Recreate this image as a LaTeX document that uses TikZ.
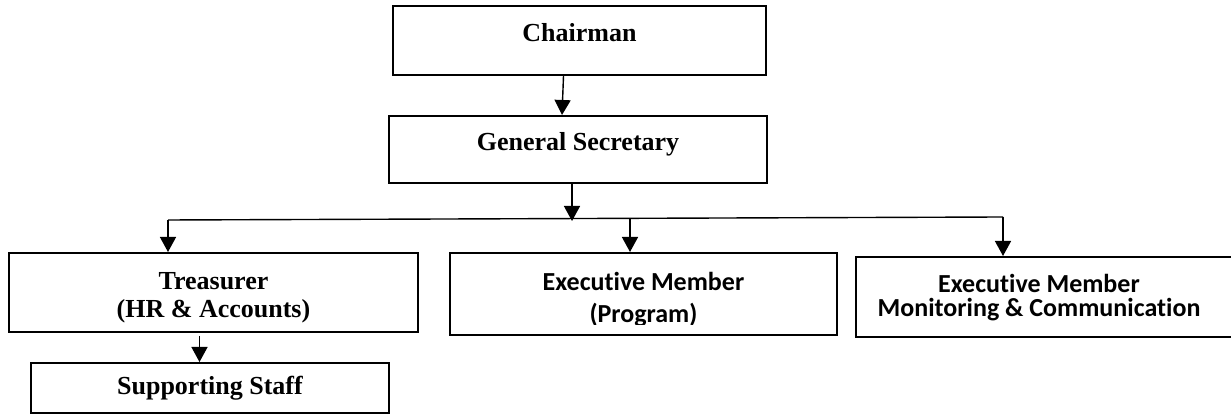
\documentclass[tikz,border=0pt]{standalone}
\usepackage{fontspec}
\setmainfont{Liberation Serif}
\newfontfamily\calibri[Ligatures=NoCommon]{Carlito}
\usetikzlibrary{arrows.meta}

\tikzset{
	orgbox/.style={shape=rectangle,draw=black,line width=1pt,inner sep=0pt},
	sertext/.style={font=\fontsize{13pt}{14pt}\selectfont\bfseries,align=center},
	caltext/.style={font=\calibri\fontsize{13pt}{16pt}\selectfont\bfseries,align=center},
	toptext/.style={text height=9pt,text depth=7.5pt},
	arr/.style={-{Triangle[length=7.5pt,width=8pt]},line width=0.7pt}
}

\begin{document}
\begin{tikzpicture}[x=0.5pt,y=-0.5pt]
	
	\useasboundingbox (0,0) rectangle (1231,415);
	
	\node[orgbox,sertext,toptext,minimum width=186.5pt,minimum height=34.5pt] (chair) at (579.5, 40.5) {Chairman};
	\node[orgbox,sertext,toptext,minimum width=189pt,minimum height=33.5pt] (gs) at (578, 149.5) {General Secretary};
	\node[orgbox,sertext,text height=28pt,text depth=3pt,minimum width=204.5pt,minimum height=39.5pt] (tres) at (213.5, 292.5) {Treasurer\\(HR \& Accounts)};
	\node[orgbox,sertext,minimum width=179pt,minimum height=25pt] (staff) at (210, 388) {Supporting Staff};
	\node[orgbox,minimum width=193.5pt,minimum height=41pt] (prog) at (643.5, 294) {};
	\node[orgbox,minimum width=194.5pt,minimum height=40pt] (mon) at (1050.5, 297) {};
	
	% text of the two member boxes is cut at the bottom
	\begin{scope}
		\clip (prog.north west) rectangle (prog.south east |- 0,325);
		\node[caltext,anchor=base] (progtxt) at (643.5, 323) {Executive Member\\(Program)};
	\end{scope}
	\begin{scope}
		\clip (mon.north west) rectangle (mon.south east |- 0,321);
		\node[caltext,anchor=base] (montxt) at (1039, 317) {Executive Member\\[-4pt]Monitoring \& Communication};
	\end{scope}
	
	\coordinate (busL) at (168, 220);
	\coordinate (busR) at (1003, 217);
	\coordinate (gsjoin) at (572, 221);
	\coordinate (progjoin) at (630, 218.5);
	
	\path[arr] ([xshift=-8pt]chair.south) edge ([xshift=-8pt]gs.north);
	\path[arr] (gsjoin |- gs.south) edge (gsjoin);
	\path[-, line width=0.7pt] (busL) edge (busR);
	\path[arr] (busL) edge (busL |- tres.north);
	\path[arr] (progjoin) edge (progjoin |- prog.north);
	\path[arr] (busR) edge (busR |- mon.north);
	\path[arr] ([shift={(-7pt,-1.5pt)}]tres.south) edge ([xshift=-7pt]tres.south |- staff.north);
	
\end{tikzpicture}
\end{document}
